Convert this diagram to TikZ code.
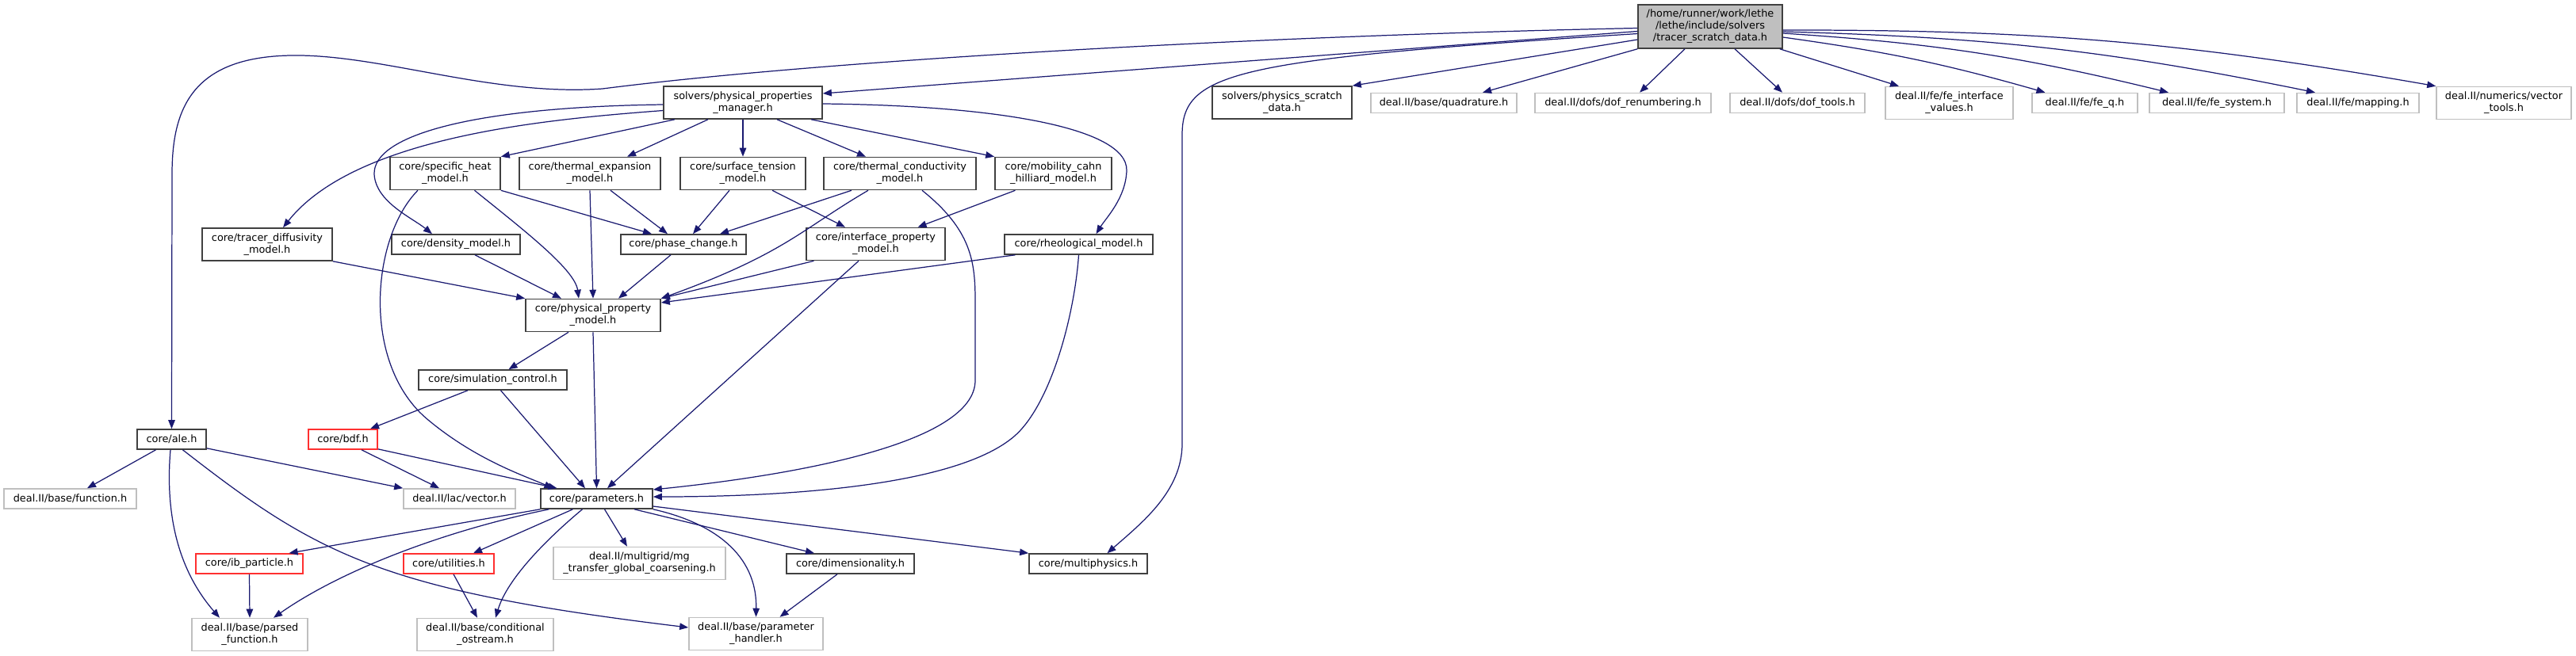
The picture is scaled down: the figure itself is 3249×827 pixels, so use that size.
\documentclass[tikz,border=0pt]{standalone}
\usepackage{fontspec}
\setmainfont{DejaVu Sans}
\usepackage{xcolor}
\definecolor{inclBlue}{HTML}{191970}
\definecolor{boxBorder}{HTML}{404040}
\definecolor{extGray}{HTML}{BFBFBF}
\definecolor{truncRed}{HTML}{FF3030}
\definecolor{rootFill}{HTML}{BFBFBF}
\usetikzlibrary{arrows.meta}

\begin{document}
\begin{tikzpicture}[x=0.01cm, y=-0.01cm,
    every node/.style={font=\fontsize{3.66pt}{4.3pt}\selectfont},
    hdr/.style={draw=boxBorder, fill=white, line width=0.45pt, align=center,
                inner sep=0pt, minimum height=2.5mm},
    ext/.style={hdr, draw=extGray},
    trunc/.style={hdr, draw=truncRed},
    root/.style={hdr, fill=rootFill},
    two/.style={minimum height=4.1mm},
    three/.style={minimum height=5.5mm},
    arr/.style={-{Triangle[length=1.1mm,width=0.85mm]}, draw=inclBlue, line width=0.35pt}]
  \useasboundingbox (0,0) rectangle (3249,827);
  \node[root, three, minimum width=18.2mm] (root) at (2157,33.5) {/home/runner/work/lethe\\/lethe/include/solvers\\/tracer\_scratch\_data.h};
  \node[hdr, two, minimum width=17.6mm] (psd) at (1617,129.5) {solvers/physics\_scratch\\\_data.h};
  \node[ext, minimum width=18.4mm] (quad) at (1821,130) {deal.II/base/quadrature.h};
  \node[ext, minimum width=22.2mm] (dofren) at (2047,130) {deal.II/dofs/dof\_renumbering.h};
  \node[ext, minimum width=17mm] (dofto) at (2267,130) {deal.II/dofs/dof\_tools.h};
  \node[ext, two, minimum width=16.1mm] (fei) at (2458.5,130) {deal.II/fe/fe\_interface\\\_values.h};
  \node[ext, minimum width=13.3mm] (feq) at (2629.5,130) {deal.II/fe/fe\_q.h};
  \node[ext, minimum width=17mm] (fesys) at (2796,130) {deal.II/fe/fe\_system.h};
  \node[ext, minimum width=15.4mm] (mapping) at (2974,130) {deal.II/fe/mapping.h};
  \node[ext, two, minimum width=17mm] (vtools) at (3158,130) {deal.II/numerics/vector\\\_tools.h};
  \node[hdr, two, minimum width=20mm] (pp) at (937,129.5) {solvers/physical\_properties\\\_manager.h};
  \node[hdr, two, minimum width=13.9mm] (spec) at (561.5,219) {core/specific\_heat\\\_model.h};
  \node[hdr, two, minimum width=17.8mm] (tex) at (744,219) {core/thermal\_expansion\\\_model.h};
  \node[hdr, two, minimum width=15.8mm] (st) at (937,219) {core/surface\_tension\\\_model.h};
  \node[hdr, two, minimum width=19.2mm] (tc) at (1135,219) {core/thermal\_conductivity\\\_model.h};
  \node[hdr, two, minimum width=14.7mm] (mob) at (1328.5,219) {core/mobility\_cahn\\\_hilliard\_model.h};
  \node[hdr, two, minimum width=16.4mm] (tracer) at (337,308.5) {core/tracer\_diffusivity\\\_model.h};
  \node[hdr, minimum width=16.2mm] (dens) at (575,308.5) {core/density\_model.h};
  \node[hdr, minimum width=15.8mm] (phase) at (862,308.5) {core/phase\_change.h};
  \node[hdr, two, minimum width=17.5mm] (ifp) at (1104.5,308) {core/interface\_property\\\_model.h};
  \node[hdr, minimum width=18.7mm] (rheo) at (1360.5,308.5) {core/rheological\_model.h};
  \node[hdr, two, minimum width=17mm] (ppm) at (748,398) {core/physical\_property\\\_model.h};
  \node[hdr, minimum width=18.7mm] (simctl) at (621.5,479.5) {core/simulation\_control.h};
  \node[hdr, minimum width=8.7mm] (ale) at (216.5,554.5) {core/ale.h};
  \node[trunc, minimum width=8.7mm] (bdf) at (432.5,554.5) {core/bdf.h};
  \node[ext, minimum width=16.7mm] (func) at (88.5,629.5) {deal.II/base/function.h};
  \node[ext, minimum width=14.1mm] (lacvec) at (579.5,629.5) {deal.II/lac/vector.h};
  \node[hdr, minimum width=14.1mm] (params) at (752.5,629.5) {core/parameters.h};
  \node[trunc, minimum width=13.5mm] (ib) at (314.5,711.5) {core/ib\_particle.h};
  \node[trunc, minimum width=11.4mm] (util) at (566,711.5) {core/utilities.h};
  \node[ext, two, minimum width=21.7mm] (mg) at (806.5,711) {deal.II/multigrid/mg\\\_transfer\_global\_coarsening.h};
  \node[hdr, minimum width=16.1mm] (dim) at (1072.5,711.5) {core/dimensionality.h};
  \node[hdr, minimum width=14.9mm] (mp) at (1372.5,711.5) {core/multiphysics.h};
  \node[ext, two, minimum width=14.6mm] (pf) at (315,801) {deal.II/base/parsed\\\_function.h};
  \node[ext, two, minimum width=17.2mm] (co) at (612,801) {deal.II/base/conditional\\\_ostream.h};
  \node[ext, two, minimum width=16.9mm] (ph) at (953.5,800) {deal.II/base/parameter\\\_handler.h};
  \draw[arr] ([yshift=-0.02cm]root.west) .. controls (1600,45) and (1050,75) .. (760,112) .. controls (620,122) and (480,68) .. (367,70) .. controls (240,72) and (217,140) .. (217,220) -- (ale.north);
  \draw[arr] ([yshift=-0.06cm]root.west) -- ([yshift=0.115cm]pp.east);
  \draw[arr] ([yshift=-0.09cm]root.west) .. controls (1560,75) and (1491,90) .. (1491,170) -- (1491,560) .. controls (1491,620) and (1440,660) .. ([xshift=0.24cm]mp.north);
  \draw[arr] ([yshift=-0.165cm]root.west) -- (psd.north east);
  \draw[arr] (root.south west) -- ([xshift=0.49cm]quad.north);
  \draw[arr] ([xshift=-0.32cm]root.south) -- ([xshift=0.21cm]dofren.north);
  \draw[arr] ([xshift=0.31cm]root.south) -- ([xshift=-0.19cm]dofto.north);
  \draw[arr] ([xshift=-0.04cm]root.south east) -- ([xshift=-0.635cm]fei.north);
  \draw[arr] ([yshift=-0.135cm]root.east) to[bend left=4] ([xshift=-0.5cm]feq.north);
  \draw[arr] ([yshift=-0.085cm]root.east) to[bend left=5] ([xshift=-0.61cm]fesys.north);
  \draw[arr] ([yshift=-0.065cm]root.east) to[bend left=5] ([xshift=-0.54cm]mapping.north);
  \draw[arr] ([yshift=-0.045cm]root.east) to[bend left=5] (vtools.north west);
  \draw[arr] ([xshift=-0.86cm]pp.south) -- (spec.north east);
  \draw[arr] ([xshift=-0.44cm]pp.south) -- ([xshift=0.47cm]tex.north);
  \draw[arr] (pp.south) -- (st.north);
  \draw[arr] ([xshift=0.43cm]pp.south) -- ([xshift=-0.43cm]tc.north);
  \draw[arr] ([xshift=0.86cm]pp.south) -- (mob.north west);
  \draw[arr] ([yshift=-0.015cm]pp.east) .. controls (1250,133) and (1422,160) .. (1421,215) .. controls (1420,250) and (1395,275) .. ([xshift=0.22cm]rheo.north);
  \draw[arr] ([yshift=-0.025cm]pp.west) .. controls (600,135) and (470,170) .. (472,220) .. controls (474,255) and (520,275) .. ([xshift=-0.3cm]dens.north);
  \draw[arr] ([yshift=-0.1cm]pp.west) .. controls (700,150) and (450,170) .. ([xshift=0.2cm]tracer.north);
  \draw[arr] (spec.south east) -- ([xshift=-0.4cm]phase.north);
  \draw[arr] ([xshift=0.37cm]spec.south) .. controls (660,290) and (725,340) .. ([xshift=-0.18cm]ppm.north);
  \draw[arr] ([xshift=-0.345cm]spec.south) .. controls (468,300) and (455,460) .. (540,530) .. controls (600,580) and (660,600) .. ([xshift=-0.55cm]params.north);
  \draw[arr] ([xshift=0.26cm]tex.south) -- ([xshift=-0.2cm]phase.north);
  \draw[arr] (tex.south) -- (ppm.north);
  \draw[arr] ([xshift=-0.17cm]st.south) -- ([xshift=0.12cm]phase.north);
  \draw[arr] ([xshift=0.37cm]st.south) -- ([xshift=-0.385cm]ifp.north);
  \draw[arr] ([xshift=-0.61cm]tc.south) -- ([xshift=0.46cm]phase.north);
  \draw[arr] ([xshift=-0.4cm]tc.south) .. controls (1010,290) and (990,320) .. (ppm.north east);
  \draw[arr] ([xshift=0.28cm]tc.south) .. controls (1225,290) and (1230,330) .. (1230,380) -- (1230,480) .. controls (1230,560) and (1000,600) .. ([yshift=0.115cm]params.east);
  \draw[arr] ([xshift=-0.48cm]mob.south) -- ([xshift=0.53cm]ifp.north);
  \draw[arr] ([xshift=-0.8cm]rheo.south) -- ([yshift=0.16cm]ppm.east);
  \draw[arr] (rheo.south) .. controls (1355,400) and (1325,510) .. (1280,550) .. controls (1200,620) and (950,627) .. ([yshift=0.025cm]params.east);
  \draw[arr] ([xshift=-0.78cm]ifp.south) -- (ppm.north east);
  \draw[arr] ([xshift=-0.215cm]ifp.south) -- ([xshift=0.135cm]params.north);
  \draw[arr] (tracer.south east) -- (ppm.north west);
  \draw[arr] ([xshift=0.24cm]dens.south) -- ([xshift=-0.4cm]ppm.north);
  \draw[arr] ([xshift=-0.16cm]phase.south) -- ([xshift=0.32cm]ppm.north);
  \draw[arr] ([xshift=-0.31cm]ppm.south) -- ([xshift=0.2cm]simctl.north);
  \draw[arr] (ppm.south) -- (params.north);
  \draw[arr] ([xshift=-0.315cm]simctl.south) -- ([xshift=0.345cm]bdf.north);
  \draw[arr] ([xshift=0.1cm]simctl.south) -- ([xshift=-0.145cm]params.north);
  \draw[arr] ([xshift=0.235cm]bdf.south) -- ([xshift=-0.255cm]lacvec.north);
  \draw[arr] ([yshift=0.01cm]bdf.south east) -- ([xshift=-0.5cm]params.north);
  \draw[arr] ([xshift=-0.2cm]ale.south) -- ([xshift=0.215cm]func.north);
  \draw[arr] ([yshift=0.02cm]ale.south east) -- (lacvec.north west);
  \draw[arr] ([xshift=-0.015cm]ale.south) .. controls (208,650) and (225,720) .. ([xshift=-0.38cm]pf.north);
  \draw[arr] ([xshift=0.14cm]ale.south) .. controls (400,700) and (480,745) .. ([yshift=0.08cm]ph.west);
  \draw[arr] (params.south west) -- ([xshift=0.5cm]ib.north);
  \draw[arr] ([xshift=-0.6cm]params.south) .. controls (560,670) and (430,720) .. ([xshift=0.3cm]pf.north);
  \draw[arr] ([xshift=-0.3cm]params.south) -- ([xshift=0.31cm]util.north);
  \draw[arr] ([xshift=-0.18cm]params.south) .. controls (690,680) and (640,730) .. ([xshift=0.13cm]co.north);
  \draw[arr] ([xshift=0.1cm]params.south) -- ([xshift=-0.155cm]mg.north);
  \draw[arr] (params.south east) .. controls (900,660) and (955,700) .. (ph.north);
  \draw[arr] ([xshift=0.475cm]params.south) -- ([xshift=-0.455cm]dim.north);
  \draw[arr] ([yshift=-0.095cm]params.east) -- (mp.north west);
  \draw[arr] (ib.south) -- (pf.north);
  \draw[arr] ([xshift=0.06cm]util.south) -- ([xshift=-0.1cm]co.north);
  \draw[arr] ([xshift=-0.165cm]dim.south) -- ([xshift=0.3cm]ph.north);
\end{tikzpicture}
\end{document}
